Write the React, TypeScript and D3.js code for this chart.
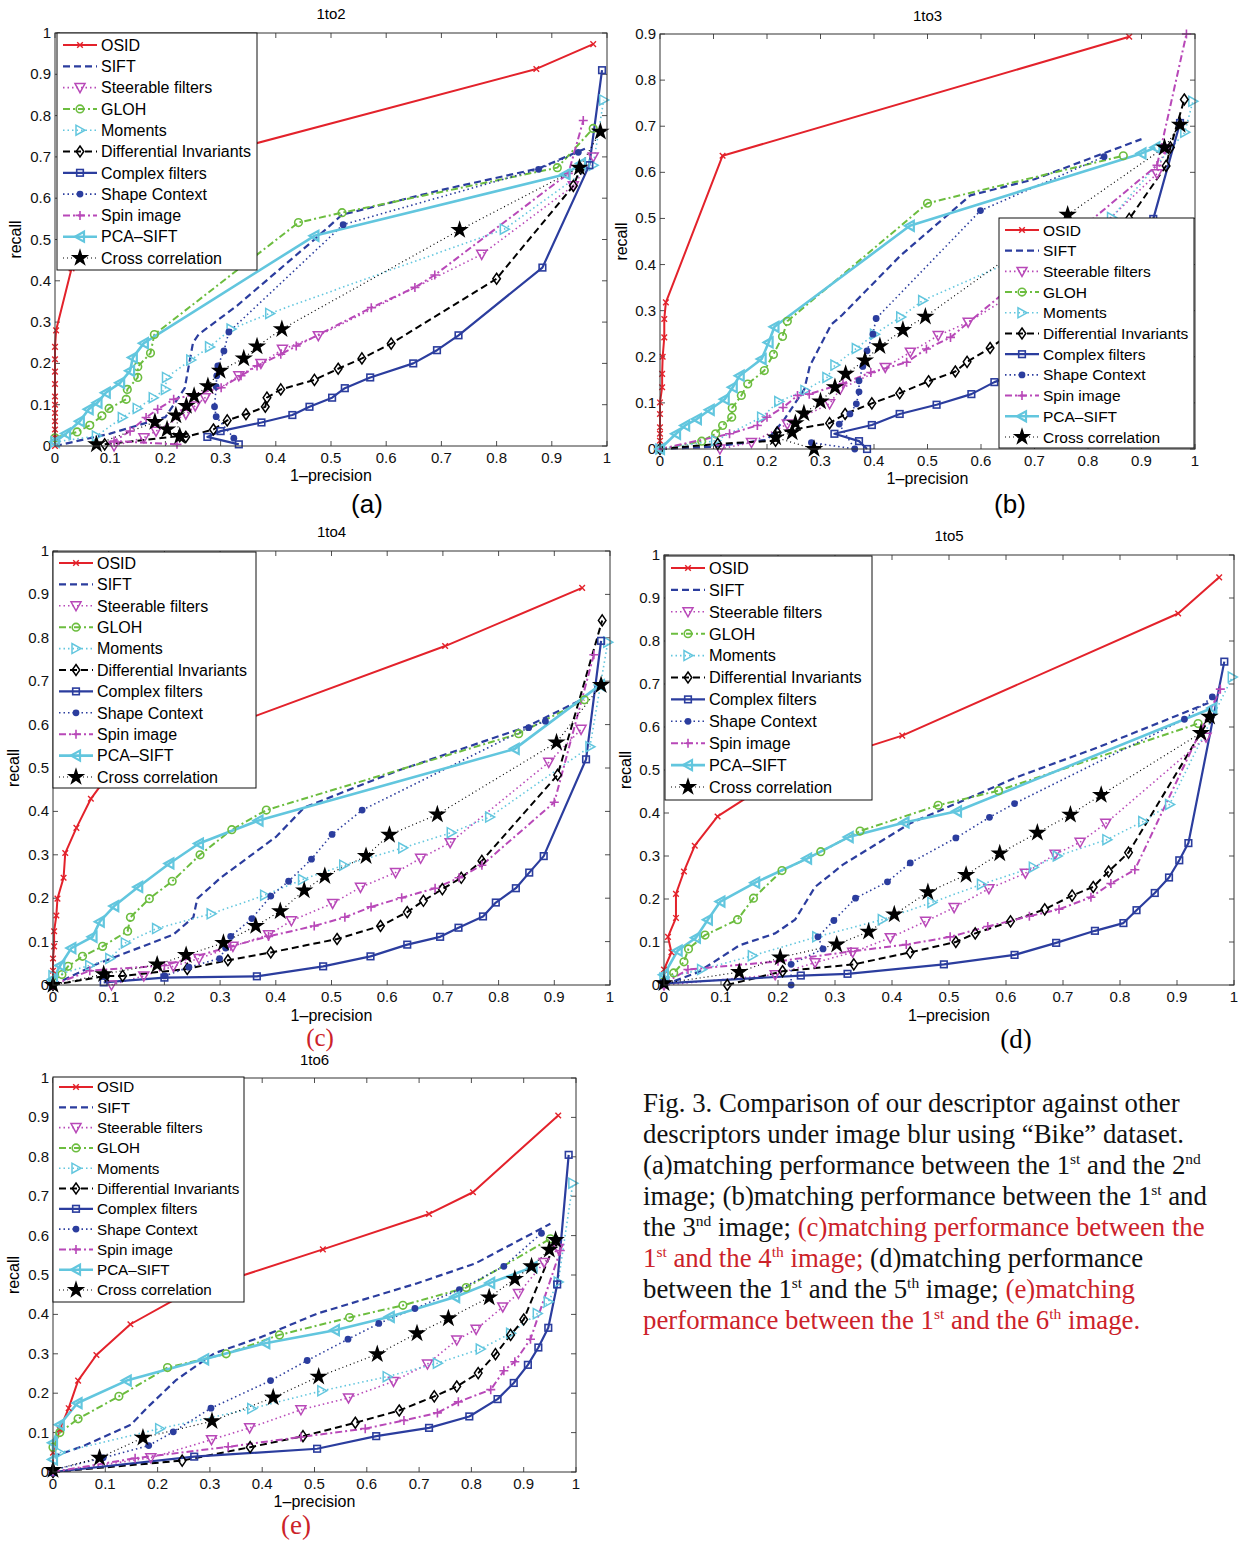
import React, { useEffect } from "react";
import * as d3 from "d3";

type P = [number, number];

const SERIES_NAMES = ["OSID", "SIFT", "Steerable filters", "GLOH", "Moments", "Differential Invariants", "Complex filters", "Shape Context", "Spin image", "PCA–SIFT", "Cross correlation"];
const X_TICKS = [0, 0.1, 0.2, 0.3, 0.4, 0.5, 0.6, 0.7, 0.8, 0.9, 1];
const Y_TICKS_1 = [0, 0.1, 0.2, 0.3, 0.4, 0.5, 0.6, 0.7, 0.8, 0.9, 1];
const Y_TICKS_09 = [0, 0.1, 0.2, 0.3, 0.4, 0.5, 0.6, 0.7, 0.8, 0.9];

// Panel (a) 1to2
const dataA: P[][] = [
  [[0,0],[0,0.02],[0,0.04],[0,0.06],[0,0.08],[0,0.1],[0,0.12],[0,0.15],[0,0.18],[0,0.21],[0,0.24],[0.002,0.28],[0.03,0.43],[0.07,0.56],[0.15,0.65],[0.3,0.71],[0.872,0.913],[0.975,0.973]],
  [[0,0],[0.1,0.03],[0.2,0.07],[0.235,0.14],[0.25,0.25],[0.26,0.27],[0.33,0.34],[0.47,0.5],[0.52,0.56],[0.7,0.62],[0.876,0.672],[0.96,0.72]],
  [[0.107,0],[0.161,0.02],[0.183,0.036],[0.237,0.077],[0.254,0.097],[0.272,0.117],[0.333,0.17],[0.373,0.2],[0.412,0.234],[0.477,0.267],[0.773,0.464],[0.939,0.63],[0.975,0.7]],
  [[0,0.02],[0.04,0.034],[0.063,0.05],[0.085,0.073],[0.098,0.091],[0.129,0.113],[0.131,0.137],[0.15,0.166],[0.15,0.192],[0.173,0.225],[0.18,0.27],[0.441,0.541],[0.52,0.565],[0.91,0.674],[0.975,0.769]],
  [[0,0.01],[0.075,0.024],[0.122,0.069],[0.149,0.091],[0.178,0.117],[0.2,0.137],[0.202,0.166],[0.246,0.208],[0.28,0.24],[0.319,0.283],[0.389,0.321],[0.814,0.525],[0.975,0.68],[0.994,0.838]],
  [[0.09,0.004],[0.226,0.024],[0.237,0.022],[0.287,0.04],[0.312,0.062],[0.346,0.077],[0.381,0.095],[0.384,0.117],[0.409,0.137],[0.47,0.16],[0.513,0.187],[0.556,0.212],[0.609,0.248],[0.8,0.405],[0.939,0.63],[0.952,0.672]],
  [[0.333,0.004],[0.276,0.022],[0.3,0.036],[0.374,0.057],[0.43,0.075],[0.461,0.095],[0.502,0.117],[0.525,0.14],[0.571,0.166],[0.649,0.2],[0.692,0.232],[0.731,0.268],[0.883,0.432],[0.968,0.68],[0.991,0.91]],
  [[0.324,0.019],[0.292,0.071],[0.289,0.095],[0.292,0.144],[0.293,0.17],[0.295,0.194],[0.306,0.23],[0.315,0.276],[0.522,0.536],[0.876,0.67],[0.948,0.711]],
  [[0.221,0.004],[0.107,0.012],[0.136,0.036],[0.165,0.069],[0.186,0.089],[0.215,0.113],[0.301,0.141],[0.337,0.17],[0.366,0.194],[0.409,0.222],[0.437,0.242],[0.573,0.335],[0.652,0.384],[0.688,0.414],[0.93,0.66],[0.957,0.788]],
  [[0,0.01],[0.02,0.03],[0.045,0.06],[0.061,0.089],[0.077,0.105],[0.092,0.129],[0.118,0.153],[0.136,0.182],[0.141,0.214],[0.161,0.249],[0.47,0.509],[0.925,0.658],[0.953,0.684]],
  [[0.075,0.004],[0.181,0.058],[0.203,0.04],[0.226,0.024],[0.219,0.074],[0.238,0.097],[0.252,0.121],[0.277,0.145],[0.299,0.182],[0.342,0.212],[0.366,0.241],[0.411,0.283],[0.733,0.523],[0.95,0.674],[0.988,0.761]],
];

// Panel (b) 1to3
const dataB: P[][] = [
  [[0,0],[0,0.018],[0,0.033],[0,0.047],[0,0.076],[0,0.101],[0.004,0.134],[0.004,0.163],[0.005,0.2],[0.008,0.242],[0.008,0.282],[0.011,0.318],[0.117,0.636],[0.877,0.894]],
  [[0,0],[0.1,0.005],[0.2,0.02],[0.23,0.06],[0.27,0.13],[0.28,0.18],[0.32,0.27],[0.34,0.29],[0.45,0.42],[0.58,0.55],[0.7,0.585],[0.9,0.672]],
  [[0.112,0],[0.171,0.014],[0.238,0.054],[0.317,0.098],[0.337,0.13],[0.421,0.177],[0.468,0.21],[0.52,0.246],[0.576,0.275],[0.75,0.4],[0.929,0.597],[0.944,0.651]],
  [[0,0],[0.078,0.017],[0.104,0.033],[0.117,0.051],[0.134,0.069],[0.135,0.089],[0.152,0.116],[0.164,0.141],[0.195,0.17],[0.212,0.205],[0.229,0.244],[0.238,0.277],[0.5,0.533],[0.866,0.636]],
  [[0,0],[0.104,0.018],[0.19,0.069],[0.222,0.103],[0.271,0.127],[0.312,0.155],[0.327,0.182],[0.367,0.218],[0.401,0.249],[0.45,0.286],[0.491,0.322],[0.844,0.502],[0.981,0.687],[0.996,0.754]],
  [[0,0],[0.108,0.011],[0.216,0.018],[0.219,0.036],[0.317,0.056],[0.346,0.076],[0.396,0.099],[0.448,0.121],[0.502,0.147],[0.552,0.168],[0.574,0.189],[0.617,0.219],[0.75,0.33],[0.877,0.499],[0.946,0.614],[0.954,0.654],[0.98,0.758]],
  [[0.387,0],[0.372,0.017],[0.326,0.033],[0.396,0.052],[0.448,0.076],[0.517,0.096],[0.582,0.119],[0.625,0.145],[0.75,0.2],[0.88,0.3],[0.922,0.499],[0.972,0.707]],
  [[0.283,0.014],[0.364,0],[0.335,0.054],[0.355,0.076],[0.367,0.098],[0.372,0.124],[0.372,0.148],[0.379,0.179],[0.387,0.213],[0.398,0.249],[0.404,0.283],[0.599,0.517],[0.83,0.634]],
  [[0,0],[0.13,0.033],[0.182,0.051],[0.2,0.069],[0.23,0.09],[0.257,0.116],[0.279,0.119],[0.342,0.142],[0.394,0.166],[0.461,0.188],[0.498,0.217],[0.543,0.242],[0.929,0.615],[0.984,0.9]],
  [[0,0],[0.03,0.033],[0.047,0.051],[0.069,0.065],[0.093,0.085],[0.121,0.108],[0.136,0.134],[0.149,0.159],[0.19,0.195],[0.203,0.231],[0.214,0.265],[0.467,0.484],[0.9,0.641],[0.926,0.654]],
  [[0.288,0],[0.216,0.025],[0.247,0.036],[0.253,0.056],[0.269,0.077],[0.3,0.103],[0.327,0.134],[0.347,0.163],[0.383,0.192],[0.411,0.223],[0.454,0.258],[0.496,0.287],[0.762,0.508],[0.943,0.654],[0.972,0.703]],
];

// Panel (c) 1to4
const dataC: P[][] = [
  [[0,0],[0,0.033],[0,0.061],[0.002,0.089],[0.002,0.124],[0.006,0.16],[0.008,0.199],[0.019,0.247],[0.022,0.304],[0.042,0.362],[0.068,0.429],[0.12,0.52],[0.3,0.59],[0.704,0.781],[0.95,0.915]],
  [[0,0],[0.08,0.049],[0.216,0.116],[0.252,0.156],[0.259,0.199],[0.301,0.247],[0.401,0.342],[0.451,0.409],[0.615,0.492],[0.85,0.595],[0.95,0.658]],
  [[0.105,0],[0.163,0.021],[0.216,0.043],[0.262,0.061],[0.323,0.089],[0.387,0.116],[0.428,0.148],[0.502,0.188],[0.552,0.225],[0.615,0.259],[0.66,0.292],[0.713,0.328],[0.89,0.513],[0.948,0.589]],
  [[0,0.01],[0.016,0.024],[0.027,0.043],[0.053,0.066],[0.089,0.089],[0.134,0.124],[0.139,0.156],[0.173,0.199],[0.214,0.239],[0.264,0.3],[0.321,0.358],[0.383,0.403],[0.836,0.579],[0.954,0.657]],
  [[0,0.021],[0.066,0.045],[0.102,0.061],[0.13,0.097],[0.186,0.13],[0.284,0.164],[0.38,0.207],[0.448,0.243],[0.522,0.276],[0.628,0.316],[0.715,0.351],[0.784,0.387],[0.964,0.549],[0.996,0.79]],
  [[0,0],[0.095,0.021],[0.125,0.021],[0.241,0.037],[0.314,0.057],[0.391,0.075],[0.51,0.106],[0.588,0.136],[0.636,0.168],[0.665,0.194],[0.699,0.221],[0.733,0.247],[0.77,0.286],[0.906,0.484],[0.986,0.84]],
  [[0.091,0.006],[0.2,0.017],[0.366,0.02],[0.485,0.043],[0.57,0.066],[0.636,0.093],[0.695,0.111],[0.728,0.132],[0.772,0.158],[0.795,0.19],[0.831,0.223],[0.855,0.259],[0.881,0.297],[0.957,0.52],[0.984,0.793]],
  [[0.2,0.021],[0.244,0.041],[0.299,0.061],[0.31,0.085],[0.319,0.112],[0.357,0.153],[0.391,0.205],[0.423,0.239],[0.464,0.29],[0.501,0.347],[0.555,0.403],[0.854,0.593],[0.884,0.608]],
  [[0,0],[0.066,0.033],[0.2,0.045],[0.319,0.089],[0.387,0.112],[0.469,0.136],[0.524,0.156],[0.571,0.18],[0.626,0.201],[0.686,0.223],[0.729,0.247],[0.77,0.276],[0.9,0.421],[0.971,0.761]],
  [[0,0.013],[0.013,0.045],[0.033,0.085],[0.071,0.111],[0.084,0.146],[0.11,0.182],[0.153,0.226],[0.209,0.28],[0.262,0.326],[0.369,0.379],[0.829,0.544],[0.982,0.691]],
  [[0,0],[0.091,0.025],[0.187,0.047],[0.239,0.069],[0.306,0.097],[0.364,0.136],[0.408,0.17],[0.451,0.218],[0.488,0.251],[0.562,0.297],[0.604,0.346],[0.69,0.393],[0.904,0.559],[0.984,0.691]],
];

// Panel (d) 1to5
const dataD: P[][] = [
  [[0,0],[0,0.036],[0.013,0.076],[0.007,0.112],[0.021,0.156],[0.021,0.212],[0.035,0.264],[0.054,0.324],[0.094,0.392],[0.15,0.44],[0.3,0.53],[0.418,0.58],[0.902,0.864],[0.974,0.948]],
  [[0,0],[0.06,0.03],[0.132,0.092],[0.195,0.12],[0.23,0.152],[0.265,0.228],[0.314,0.28],[0.432,0.376],[0.516,0.424],[0.62,0.484],[0.76,0.552],[0.955,0.656]],
  [[0,0],[0.195,0.024],[0.265,0.052],[0.331,0.076],[0.397,0.11],[0.459,0.148],[0.509,0.18],[0.57,0.224],[0.634,0.26],[0.686,0.304],[0.73,0.332],[0.775,0.376],[0.951,0.576]],
  [[0,0.008],[0.017,0.028],[0.035,0.054],[0.043,0.084],[0.072,0.116],[0.129,0.152],[0.157,0.202],[0.207,0.266],[0.275,0.31],[0.344,0.358],[0.481,0.418],[0.587,0.452],[0.937,0.608]],
  [[0,0.016],[0.066,0.036],[0.155,0.068],[0.268,0.112],[0.383,0.152],[0.47,0.192],[0.557,0.234],[0.648,0.274],[0.69,0.3],[0.777,0.338],[0.84,0.38],[0.887,0.42],[0.997,0.716]],
  [[0.111,0],[0.208,0.032],[0.333,0.048],[0.432,0.076],[0.512,0.1],[0.546,0.12],[0.608,0.148],[0.668,0.176],[0.716,0.208],[0.753,0.228],[0.78,0.264],[0.815,0.308],[0.958,0.622]],
  [[0,0.004],[0.24,0.022],[0.322,0.026],[0.491,0.048],[0.615,0.07],[0.688,0.098],[0.756,0.126],[0.806,0.144],[0.829,0.174],[0.861,0.214],[0.886,0.25],[0.904,0.29],[0.92,0.33],[0.983,0.752]],
  [[0.223,0],[0.223,0.048],[0.279,0.084],[0.27,0.112],[0.298,0.15],[0.336,0.202],[0.392,0.24],[0.432,0.284],[0.512,0.342],[0.571,0.39],[0.615,0.422],[0.913,0.618],[0.962,0.67]],
  [[0,0.004],[0.042,0.036],[0.2,0.055],[0.328,0.078],[0.425,0.094],[0.502,0.112],[0.568,0.136],[0.641,0.16],[0.693,0.176],[0.749,0.204],[0.784,0.236],[0.826,0.268],[0.976,0.688]],
  [[0,0.024],[0.024,0.08],[0.056,0.11],[0.077,0.152],[0.099,0.194],[0.16,0.238],[0.251,0.294],[0.324,0.344],[0.422,0.378],[0.514,0.404],[0.962,0.644]],
  [[0,0.004],[0.132,0.03],[0.204,0.064],[0.303,0.094],[0.359,0.124],[0.404,0.164],[0.463,0.216],[0.53,0.256],[0.589,0.306],[0.655,0.354],[0.713,0.396],[0.767,0.442],[0.942,0.586],[0.957,0.624]],
];

// Panel (e) 1to6
const dataE: P[][] = [
  [[0,0],[0,0.049],[0.013,0.108],[0.03,0.162],[0.048,0.232],[0.083,0.297],[0.148,0.375],[0.25,0.45],[0.516,0.565],[0.719,0.655],[0.803,0.71],[0.966,0.905]],
  [[0,0.039],[0.058,0.066],[0.149,0.12],[0.183,0.167],[0.236,0.234],[0.308,0.301],[0.399,0.343],[0.505,0.402],[0.694,0.478],[0.807,0.529],[0.951,0.63]],
  [[0,0],[0.187,0.036],[0.303,0.082],[0.376,0.112],[0.474,0.158],[0.565,0.188],[0.651,0.23],[0.716,0.274],[0.772,0.335],[0.809,0.362],[0.86,0.419],[0.89,0.453],[0.939,0.532],[0.966,0.567]],
  [[0,0.063],[0.013,0.1],[0.048,0.135],[0.126,0.192],[0.219,0.265],[0.331,0.3],[0.433,0.348],[0.567,0.392],[0.669,0.423],[0.79,0.468],[0.951,0.592]],
  [[0.013,0.049],[0.204,0.11],[0.38,0.161],[0.514,0.206],[0.639,0.242],[0.735,0.276],[0.817,0.312],[0.875,0.352],[0.926,0.402],[0.947,0.432],[0.966,0.482],[0.994,0.733]],
  [[0,0],[0.247,0.029],[0.377,0.063],[0.478,0.091],[0.578,0.125],[0.662,0.156],[0.729,0.192],[0.772,0.217],[0.813,0.251],[0.846,0.299],[0.875,0.348],[0.9,0.387],[0.962,0.588]],
  [[0,0],[0.27,0.039],[0.505,0.059],[0.618,0.091],[0.719,0.112],[0.796,0.141],[0.85,0.185],[0.881,0.226],[0.908,0.272],[0.928,0.316],[0.947,0.366],[0.964,0.476],[0.986,0.805]],
  [[0,0.005],[0.096,0.036],[0.183,0.067],[0.23,0.102],[0.302,0.162],[0.416,0.232],[0.486,0.283],[0.564,0.337],[0.623,0.377],[0.692,0.415],[0.777,0.463],[0.862,0.522],[0.934,0.606]],
  [[0,0],[0.157,0.035],[0.335,0.064],[0.474,0.089],[0.597,0.11],[0.671,0.131],[0.735,0.15],[0.775,0.178],[0.837,0.209],[0.862,0.257],[0.883,0.28],[0.913,0.337],[0.97,0.562]],
  [[0,0.032],[0,0.074],[0.013,0.12],[0.047,0.175],[0.141,0.232],[0.289,0.286],[0.406,0.327],[0.539,0.36],[0.644,0.394],[0.769,0.444],[0.836,0.48],[0.917,0.52]],
  [[0,0.005],[0.089,0.036],[0.172,0.087],[0.304,0.129],[0.421,0.189],[0.508,0.242],[0.62,0.299],[0.696,0.352],[0.756,0.39],[0.834,0.443],[0.883,0.49],[0.915,0.522],[0.949,0.564],[0.961,0.589]],
];

const RED = "#e3222b";
const BLUE = "#2b3d9e";
const MAG = "#b848b8";
const GREEN = "#6cbd3f";
const CYAN = "#62c6de";
const BLACK = "#000000";

type Style = { color: string; width: number; dash: string | null; marker: string | null };
const STYLES: Style[] = [
  { color: RED, width: 2, dash: null, marker: "x" },
  { color: BLUE, width: 2.2, dash: "7,4", marker: null },
  { color: MAG, width: 1.6, dash: "1.5,3", marker: "dtri" },
  { color: GREEN, width: 2, dash: "7,3,2,3", marker: "circle" },
  { color: CYAN, width: 1.6, dash: "1.5,3", marker: "rtri" },
  { color: BLACK, width: 2, dash: "7,4", marker: "diamond" },
  { color: BLUE, width: 2.2, dash: null, marker: "square" },
  { color: BLUE, width: 1.6, dash: "1.5,3", marker: "dot" },
  { color: MAG, width: 2, dash: "7,3,2,3", marker: "plus" },
  { color: CYAN, width: 2.6, dash: null, marker: "ltri" },
  { color: BLACK, width: 1.2, dash: "1,3", marker: "star" },
];

const starPath = d3.symbol().type(d3.symbolStar).size(105)() as string;

function Marker({ type, x, y, color }: { type: string | null; x: number; y: number; color: string }) {
  if (!type) return null;
  switch (type) {
    case "x":
      return <path d={`M${x - 2.8},${y - 2.8}L${x + 2.8},${y + 2.8}M${x - 2.8},${y + 2.8}L${x + 2.8},${y - 2.8}`} stroke={color} strokeWidth={1.4} />;
    case "dtri":
      return <polygon points={`${x - 5},${y - 4} ${x + 5},${y - 4} ${x},${y + 5}`} fill="none" stroke={color} strokeWidth={1.5} />;
    case "rtri":
      return <polygon points={`${x - 4},${y - 5} ${x - 4},${y + 5} ${x + 5},${y}`} fill="none" stroke={color} strokeWidth={1.5} />;
    case "ltri":
      return <polygon points={`${x + 4},${y - 5} ${x + 4},${y + 5} ${x - 5},${y}`} fill="none" stroke={color} strokeWidth={2.2} />;
    case "circle":
      return <circle cx={x} cy={y} r={3.8} fill="none" stroke={color} strokeWidth={1.6} />;
    case "diamond":
      return <polygon points={`${x},${y - 5.5} ${x + 3.8},${y} ${x},${y + 5.5} ${x - 3.8},${y}`} fill="none" stroke={color} strokeWidth={1.5} />;
    case "square":
      return <rect x={x - 3.3} y={y - 3.3} width={6.6} height={6.6} fill="none" stroke={color} strokeWidth={1.6} />;
    case "dot":
      return <circle cx={x} cy={y} r={3.4} fill={color} />;
    case "plus":
      return <path d={`M${x - 4.5},${y}L${x + 4.5},${y}M${x},${y - 4.5}L${x},${y + 4.5}`} stroke={color} strokeWidth={1.6} />;
    case "star":
      return <path d={starPath} transform={`translate(${x},${y})`} fill={color} />;
  }
  return null;
}

type PanelCfg = {
  data: P[][];
  x0: number; x1: number; yb: number; yt: number; ymax: number; yTicks: number[];
  title: string; titleY: number; xlabY: number; ylabX: number;
  legend: { x: number; y: number; w: number; h: number; fs: number; first: number; step: number };
  label: { text: string; x: number; y: number; color: string; serif: boolean; fs: number };
};

const SANS = "'Liberation Sans', Arial, Helvetica, sans-serif";
const SERIF = "'Liberation Serif', 'Times New Roman', serif";

const fmt = (v: number) => (v === 0 ? "0" : v === 1 ? "1" : v.toFixed(1));

function Panel({ cfg }: { cfg: PanelCfg }) {
  const xs = d3.scaleLinear().domain([0, 1]).range([cfg.x0, cfg.x1]);
  const ys = d3.scaleLinear().domain([0, cfg.ymax]).range([cfg.yb, cfg.yt]);
  const line = d3.line<P>().x((d) => xs(d[0])).y((d) => ys(d[1]));
  const lg = cfg.legend;
  const midX = (cfg.x0 + cfg.x1) / 2;
  const midY = (cfg.yb + cfg.yt) / 2;
  return (
    <g>
      <rect x={cfg.x0} y={cfg.yt} width={cfg.x1 - cfg.x0} height={cfg.yb - cfg.yt} fill="#fff" />
      {X_TICKS.map((t) => (
        <g key={"x" + t}>
          <line x1={xs(t)} x2={xs(t)} y1={cfg.yb} y2={cfg.yb - 5} stroke="#222" strokeWidth={0.8} />
          <line x1={xs(t)} x2={xs(t)} y1={cfg.yt} y2={cfg.yt + 5} stroke="#222" strokeWidth={0.8} />
          <text x={xs(t)} y={cfg.yb + 17} fontSize={15} textAnchor="middle" fontFamily={SANS} fill="#111">{fmt(t)}</text>
        </g>
      ))}
      {cfg.yTicks.map((t) => (
        <g key={"y" + t}>
          <line x1={cfg.x0} x2={cfg.x0 + 5} y1={ys(t)} y2={ys(t)} stroke="#222" strokeWidth={0.8} />
          <line x1={cfg.x1} x2={cfg.x1 - 5} y1={ys(t)} y2={ys(t)} stroke="#222" strokeWidth={0.8} />
          <text x={cfg.x0 - 4} y={ys(t) + 5} fontSize={15} textAnchor="end" fontFamily={SANS} fill="#111">{fmt(t)}</text>
        </g>
      ))}
      {cfg.data.map((pts, i) => {
        const st = STYLES[i];
        return (
          <path key={"l" + i} d={line(pts) as string} fill="none" stroke={st.color} strokeWidth={st.width}
            strokeDasharray={st.dash ?? undefined} strokeLinejoin="round" />
        );
      })}
      {cfg.data.map((pts, i) => {
        const st = STYLES[i];
        return (
          <g key={"m" + i}>
            {pts.map((p, j) => <Marker key={j} type={st.marker} x={xs(p[0])} y={ys(p[1])} color={st.color} />)}
          </g>
        );
      })}
      <rect x={cfg.x0} y={cfg.yt} width={cfg.x1 - cfg.x0} height={cfg.yb - cfg.yt} fill="none" stroke="#333" strokeWidth={1} />
      <rect x={lg.x} y={lg.y} width={lg.w} height={lg.h} fill="#fff" stroke="#111" strokeWidth={1} />
      {SERIES_NAMES.map((name, i) => {
        const st = STYLES[i];
        const yy = lg.y + lg.first + i * lg.step;
        return (
          <g key={"lg" + i}>
            <line x1={lg.x + 6} x2={lg.x + 40} y1={yy} y2={yy} stroke={st.color} strokeWidth={st.width} strokeDasharray={st.dash ?? undefined} />
            <Marker type={st.marker} x={lg.x + 23} y={yy} color={st.color} />
            <text x={lg.x + 44} y={yy + lg.fs * 0.36} fontSize={lg.fs} fontFamily={SANS} fill="#000">{name}</text>
          </g>
        );
      })}
      <text x={midX} y={cfg.titleY} fontSize={15} textAnchor="middle" fontFamily={SANS}>{cfg.title}</text>
      <text x={midX} y={cfg.xlabY} fontSize={16} textAnchor="middle" fontFamily={SANS}>1–precision</text>
      <text transform={`translate(${cfg.ylabX},${midY}) rotate(-90)`} fontSize={16} textAnchor="middle" fontFamily={SANS}>recall</text>
      <text x={cfg.label.x} y={cfg.label.y} fontSize={cfg.label.fs} textAnchor="middle"
        fontFamily={cfg.label.serif ? SERIF : SANS} fill={cfg.label.color}>{cfg.label.text}</text>
    </g>
  );
}

const CAP_RED = "#cc2229";

const PANELS: PanelCfg[] = [
  { data: dataA, x0: 55, x1: 607, yb: 446, yt: 33, ymax: 1, yTicks: Y_TICKS_1, title: "1to2", titleY: 19, xlabY: 481, ylabX: 21,
    legend: { x: 57, y: 33, w: 200, h: 237, fs: 16, first: 12, step: 21.3 }, label: { text: "(a)", x: 367, y: 513, color: "#000", serif: false, fs: 26 } },
  { data: dataB, x0: 660, x1: 1195, yb: 449, yt: 34, ymax: 0.9, yTicks: Y_TICKS_09, title: "1to3", titleY: 21, xlabY: 484, ylabX: 627,
    legend: { x: 999, y: 218, w: 195, h: 230, fs: 15.5, first: 12, step: 20.7 }, label: { text: "(b)", x: 1010, y: 513, color: "#000", serif: false, fs: 26 } },
  { data: dataC, x0: 53, x1: 610, yb: 985, yt: 551, ymax: 1, yTicks: Y_TICKS_1, title: "1to4", titleY: 537, xlabY: 1021, ylabX: 19,
    legend: { x: 53, y: 552, w: 203, h: 236, fs: 16, first: 11, step: 21.4 }, label: { text: "(c)", x: 320, y: 1046, color: CAP_RED, serif: true, fs: 25 } },
  { data: dataD, x0: 664, x1: 1234, yb: 985, yt: 555, ymax: 1, yTicks: Y_TICKS_1, title: "1to5", titleY: 541, xlabY: 1021, ylabX: 631,
    legend: { x: 665, y: 556, w: 207, h: 244, fs: 16.3, first: 12, step: 21.9 }, label: { text: "(d)", x: 1016, y: 1048, color: "#000", serif: true, fs: 27 } },
  { data: dataE, x0: 53, x1: 576, yb: 1472, yt: 1078, ymax: 1, yTicks: Y_TICKS_1, title: "1to6", titleY: 1065, xlabY: 1507, ylabX: 19,
    legend: { x: 53, y: 1077, w: 191, h: 225, fs: 15.2, first: 10, step: 20.3 }, label: { text: "(e)", x: 296, y: 1534, color: CAP_RED, serif: true, fs: 27 } },
];

type Seg = { t: string; c?: string; sup?: boolean };
const CAPTION_LINES: Seg[][] = [
  [{ t: "Fig. 3. Comparison of our descriptor against other" }],
  [{ t: "descriptors under image blur using “Bike” dataset." }],
  [{ t: "(a)matching performance between the 1" }, { t: "st", sup: true }, { t: " and the 2" }, { t: "nd", sup: true }],
  [{ t: "image; (b)matching performance between the 1" }, { t: "st", sup: true }, { t: " and" }],
  [{ t: "the 3" }, { t: "nd", sup: true }, { t: " image; " }, { t: "(c)matching performance between the", c: CAP_RED }],
  [{ t: "1", c: CAP_RED }, { t: "st", sup: true, c: CAP_RED }, { t: " and the 4", c: CAP_RED }, { t: "th", sup: true, c: CAP_RED }, { t: " image;", c: CAP_RED }, { t: " (d)matching performance" }],
  [{ t: "between the 1" }, { t: "st", sup: true }, { t: " and the 5" }, { t: "th", sup: true }, { t: " image; " }, { t: "(e)matching", c: CAP_RED }],
  [{ t: "performance between the 1", c: CAP_RED }, { t: "st", sup: true, c: CAP_RED }, { t: " and the 6", c: CAP_RED }, { t: "th", sup: true, c: CAP_RED }, { t: " image.", c: CAP_RED }],
];

function Caption() {
  return (
    <g fontFamily={SERIF} fontSize={26.8} fill="#111">
      {CAPTION_LINES.map((segs, i) => (
        <text key={i} x={643} y={1112 + i * 31} xmlSpace="preserve">
          {segs.map((s, j) => (
            <tspan key={j} fill={s.c ?? "#111"} fontSize={s.sup ? 15.5 : 26.8} baselineShift={s.sup ? "10" : undefined}>{s.t}</tspan>
          ))}
        </text>
      ))}
    </g>
  );
}

export default function App() {
  useEffect(() => {
    document.body.style.margin = "0";
  }, []);
  return (
    <svg width={1243} height={1542} viewBox="0 0 1243 1542" style={{ display: "block", background: "#fff" }}>
      <rect width={1243} height={1542} fill="#fff" />
      {PANELS.map((p, i) => <Panel key={i} cfg={p} />)}
      <Caption />
    </svg>
  );
}
